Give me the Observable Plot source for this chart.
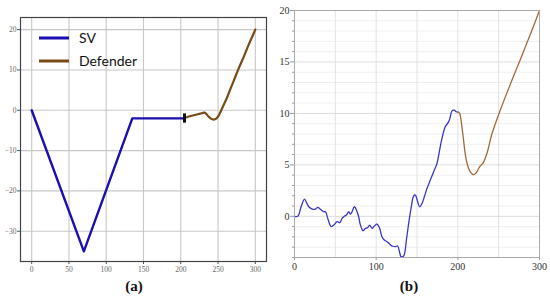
<!DOCTYPE html>
<html>
<head>
<meta charset="utf-8">
<script src="https://cdn.jsdelivr.net/npm/d3@7"></script>
<script src="https://cdn.jsdelivr.net/npm/@observablehq/plot@0.6"></script>
<style>
  html, body { margin: 0; padding: 0; background: #fff; }
  #wrap { position: relative; width: 550px; height: 303px; overflow: hidden; background: #fff; }
  #left, #right { position: absolute; top: 0; }
  #left { left: 0; }
  #right { left: 275px; }
  .cap { position: absolute; font-family: "Liberation Serif", serif; font-weight: bold; font-size: 15px; color: #111; transform: translateX(-50%); }
  #legend { position: absolute; left: 38px; top: 26px; font-family: Lato, "Open Sans", sans-serif; font-size: 14px; color: #111; }
  #legend .row { display: flex; align-items: center; height: 23px; }
  #legend svg { margin-right: 9px; }
</style>
</head>
<body>
<div id="wrap">
  <div id="left"></div>
  <div id="right"></div>
  <div id="legend"></div>
  <div class="cap" style="left:134px; top:278px;">(a)</div>
  <div class="cap" style="left:409px; top:278px;">(b)</div>
</div>
<script>
// ---------- Panel (a) data ----------
const leftXTicks = [0, 50, 100, 150, 200, 250, 300];
const leftYTicks = [-30, -20, -10, 0, 10, 20];
const svX = [0, 70, 135, 205];
const svY = [0, -35, -2, -2];
const defX = [205, 212, 220, 226, 232, 236, 240, 244, 248, 251, 254, 258, 262, 266, 271, 278, 285, 291, 296, 300];
const defY = [-1.9, -1.5, -1.1, -0.85, -0.6, -1.3, -2.0, -2.3, -2.0, -1.3, -0.1, 1.5, 3.1, 5.0, 7.3, 10.5, 13.5, 16.2, 18.3, 20];
const markerX = [205];
const markerY1 = [-0.9];
const markerY2 = [-3.2];
const legendLabels = ["SV", "Defender"];

// ---------- Panel (b) data ----------
const rightXTicks = [0, 100, 200, 300];
const rightXGrid = [0, 50, 100, 150, 200, 250, 300];
const rightYTicks = [0, 5, 10, 15, 20];
const rightYMinor = [-4, -3, -2, -1, 1, 2, 3, 4, 6, 7, 8, 9, 11, 12, 13, 14, 16, 17, 18, 19];
const svbX = [0, 4, 8, 12.2, 15, 17.5, 21.6, 25.7, 28.5, 31.8, 35.8, 38, 40.7, 44.9, 48.1, 52.2, 55.4, 58.3, 60.3, 63.6, 66.4, 68.5, 70.5, 73.4, 76.6, 78.6, 80.7, 84, 86.8, 89.6, 92, 95, 97.8, 101, 104.3, 107.1, 110, 113.3, 116.5, 119.5, 123.5, 126.3, 128.8, 130.5, 133.7, 137, 139.8, 142.7, 145.9, 148, 150.8, 153.2, 156.2, 159, 162.3, 166.3, 170.4, 174.5, 177.7, 180.6, 184.6, 188.7, 190.8, 192.8, 195.6, 198.1, 200.5];
const svbY = [0, 0, 0.9, 1.68, 1.3, 0.93, 0.71, 0.71, 0.87, 0.68, 0.45, 0.45, -0.2, -1.0, -0.85, -0.52, -0.62, -0.2, -0.03, 0.13, 0.45, 0.22, 0.45, 0.93, 0.45, -0.04, -0.85, -1.4, -1.17, -1.1, -0.85, -1.17, -0.94, -0.75, -1.17, -1.98, -2.3, -2.47, -2.69, -2.88, -2.95, -2.88, -3.53, -3.92, -3.85, -2.3, -0.68, 0.78, 1.97, 2.07, 1.42, 0.93, 1.26, 1.9, 2.72, 3.52, 4.33, 5.15, 6.44, 7.57, 8.7, 9.18, 9.67, 10.25, 10.32, 10.16, 10.12];
const defbX = [200.5, 202.2, 205, 207, 209, 211.9, 215.2, 219.3, 222.5, 226.6, 230.7, 235.6, 241.7, 251.9, 264.1, 276.3, 288.6, 300];
const defbY = [10.12, 10.0, 8.7, 7.4, 6.1, 4.98, 4.33, 4.05, 4.23, 4.8, 5.15, 6.1, 8.0, 10.3, 12.8, 15.2, 17.65, 20];

// ---------- Colours ----------
const colSV = "#1a0fb0";
const colDef = "#7a4a16";
const colSVb = "#3a36c4";
const colDefb = "#a5683a";

// ---------- Panel (a) ----------
const leftPlot = Plot.plot({
  width: 275, height: 281,
  marginLeft: 20, marginRight: 9, marginTop: 17, marginBottom: 20,
  x: {domain: [-15, 315]},
  y: {domain: [-37.5, 23]},
  style: {background: "transparent"},
  marks: [
    Plot.gridX(leftXTicks, {stroke: "#c8c8c8", strokeOpacity: 1, strokeWidth: 1.1}),
    Plot.gridY(leftYTicks, {stroke: "#c8c8c8", strokeOpacity: 1, strokeWidth: 1.1}),
    Plot.axisX(leftXTicks, {tickSize: 3, tickPadding: 2, fontSize: 7.5, fontFamily: "Liberation Serif, serif", stroke: "#555", fill: "#666", label: null}),
    Plot.axisY(leftYTicks, {tickSize: 3, tickPadding: 1, fontSize: 7.5, fontFamily: "Liberation Serif, serif", stroke: "#555", fill: "#666", label: null}),
    Plot.line(svX.map((x, i) => ({x, y: svY[i]})), {x: "x", y: "y", stroke: colSV, strokeWidth: 2.4}),
    Plot.line(defX.map((x, i) => ({x, y: defY[i]})), {x: "x", y: "y", stroke: colDef, strokeWidth: 2.2, curve: "catmull-rom"}),
    Plot.ruleX(markerX.map((x, i) => ({x, y1: markerY1[i], y2: markerY2[i]})), {x: "x", y1: "y1", y2: "y2", stroke: "#111", strokeWidth: 3}),
    Plot.frame({stroke: "#444", strokeWidth: 1.2})
  ]
});
document.getElementById("left").appendChild(leftPlot);

// legend
const legendColors = [colSV, colDef];
const legend = document.getElementById("legend");
legendLabels.forEach((lab, i) => {
  const row = document.createElement("div");
  row.className = "row";
  row.innerHTML = `<svg width="32" height="6"><line x1="1" y1="3" x2="31" y2="3" stroke="${legendColors[i]}" stroke-width="3"/></svg><span>${lab}</span>`;
  legend.appendChild(row);
});

// ---------- Panel (b) ----------
const rightPlot = Plot.plot({
  width: 275, height: 281,
  marginLeft: 19, marginRight: 11, marginTop: 10, marginBottom: 24,
  x: {domain: [0, 300]},
  y: {domain: [-4, 20]},
  style: {background: "transparent"},
  marks: [
    Plot.gridY(rightYMinor, {stroke: "#efefef", strokeOpacity: 1, strokeWidth: 1}),
    Plot.gridX(rightXGrid, {stroke: "#e2e2e2", strokeOpacity: 1, strokeWidth: 1}),
    Plot.gridY(rightYTicks, {stroke: "#dcdcdc", strokeOpacity: 1, strokeWidth: 1}),
    Plot.axisY(rightYMinor, {tickSize: 2, stroke: "#999", text: null, label: null}),
    Plot.axisX(rightXTicks, {tickSize: 3, tickPadding: 2, fontSize: 10, fontFamily: "Liberation Serif, serif", stroke: "#999", fill: "#333", label: null}),
    Plot.axisY(rightYTicks, {tickSize: 4, tickPadding: 1, fontSize: 10, fontFamily: "Liberation Serif, serif", stroke: "#999", fill: "#333", label: null}),
    Plot.line(svbX.map((x, i) => ({x, y: svbY[i]})), {x: "x", y: "y", stroke: colSVb, strokeWidth: 1.3, curve: "catmull-rom"}),
    Plot.line(defbX.map((x, i) => ({x, y: defbY[i]})), {x: "x", y: "y", stroke: colDefb, strokeWidth: 1.3, curve: "catmull-rom"}),
    Plot.frame({stroke: "#aaa", strokeWidth: 1})
  ]
});
document.getElementById("right").appendChild(rightPlot);
</script>
</body>
</html>
